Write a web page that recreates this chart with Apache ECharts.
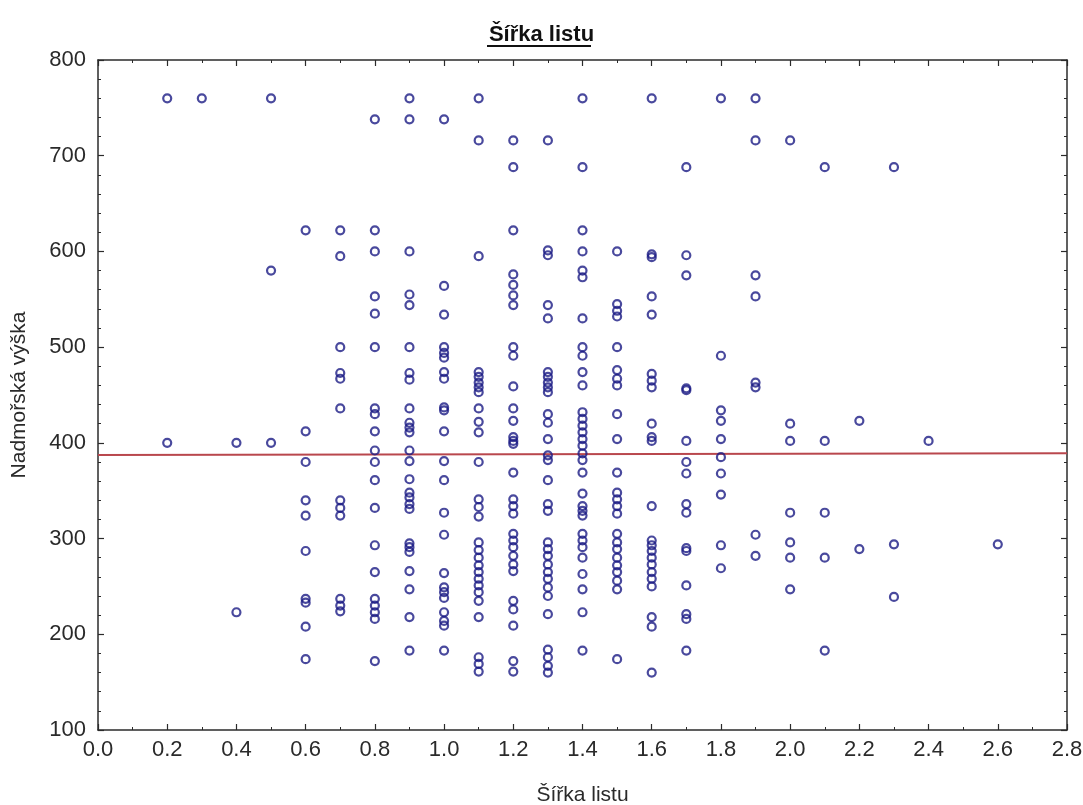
<!DOCTYPE html>
<html>
<head>
<meta charset="utf-8">
<script src="https://cdn.jsdelivr.net/npm/echarts@6/dist/echarts.min.js"></script>
<style>
  html, body { margin: 0; padding: 0; background: #fff; }
  #chart { width: 1083px; height: 805px; }
</style>
</head>
<body>
<div id="chart"></div>
<script>
// Leaf width (x) and altitude (y): one altitude list per measured width
const w02 = [760, 400];
const w03 = [760];
const w04 = [400, 223];
const w05 = [760, 580, 400];
const w06 = [622, 412, 380, 340, 324, 287, 237, 233, 208, 174];
const w07 = [622, 595, 500, 473, 467, 436, 340, 332, 324, 237, 230, 224];
const w08 = [738, 622, 600, 553, 535, 500, 436, 430, 412, 392, 380, 361, 332, 293, 265, 237, 230, 223, 216, 172];
const w09 = [760, 738, 600, 555, 544, 500, 473, 466, 436, 421, 416, 411, 392, 381, 362, 348, 343, 336, 331, 295, 291, 286, 266, 247, 218, 183];
const w10 = [738, 564, 534, 500, 494, 489, 474, 467, 437, 434, 412, 381, 361, 327, 304, 264, 249, 244, 238, 223, 214, 209, 183];
const w11 = [760, 716, 595, 474, 469, 463, 458, 453, 436, 422, 411, 380, 341, 333, 323, 296, 288, 280, 272, 265, 258, 251, 244, 235, 218, 176, 169, 161];
const w12 = [716, 688, 622, 576, 565, 554, 544, 500, 491, 459, 436, 423, 406, 402, 399, 369, 341, 334, 326, 305, 298, 291, 282, 273, 266, 235, 226, 209, 172, 161];
const w13 = [716, 601, 596, 544, 530, 474, 469, 463, 458, 453, 430, 421, 404, 387, 382, 361, 336, 329, 296, 289, 282, 273, 265, 258, 249, 240, 221, 184, 176, 167, 160];
const w14 = [760, 688, 622, 600, 580, 573, 530, 500, 491, 474, 460, 432, 425, 418, 411, 404, 397, 389, 382, 369, 347, 334, 329, 324, 305, 298, 291, 280, 263, 247, 223, 183];
const w15 = [600, 545, 538, 532, 500, 476, 467, 460, 430, 404, 369, 348, 341, 334, 326, 305, 296, 289, 280, 272, 265, 256, 247, 174];
const w16 = [760, 597, 594, 553, 534, 472, 465, 458, 420, 406, 402, 334, 298, 293, 287, 280, 273, 265, 258, 250, 218, 208, 160];
const w17 = [688, 596, 575, 457, 455, 402, 380, 368, 336, 327, 290, 287, 251, 221, 216, 183];
const w18 = [760, 491, 434, 423, 404, 385, 368, 346, 293, 269];
const w19 = [760, 716, 575, 553, 463, 458, 304, 282];
const w20 = [716, 420, 402, 327, 296, 280, 247];
const w21 = [688, 402, 327, 280, 183];
const w22 = [423, 289];
const w23 = [688, 294, 239];
const w24 = [402];
const w26 = [294];

const widths = [0.2, 0.3, 0.4, 0.5, 0.6, 0.7, 0.8, 0.9, 1.0, 1.1, 1.2, 1.3, 1.4, 1.5, 1.6, 1.7, 1.8, 1.9, 2.0, 2.1, 2.2, 2.3, 2.4, 2.6];
const altitudes = [w02, w03, w04, w05, w06, w07, w08, w09, w10, w11, w12, w13, w14, w15, w16, w17, w18, w19, w20, w21, w22, w23, w24, w26];

// Fitted linear trend (endpoints at x = 0 and x = 2.8)
const trendX = [0, 2.8];
const trendY = [387.4, 389.1];

const xTicks = { min: 0, max: 2.8, step: 0.2 };
const yTicks = { min: 100, max: 800, step: 100 };

const points = [];
widths.forEach((w, i) => altitudes[i].forEach(h => points.push([w, h])));

const frame = '#2b2b2b';
const labelFont = 'Liberation Sans, Arial, sans-serif';

function axisCommon(showLabels) {
  return {
    axisLine: { show: true, onZero: false, lineStyle: { color: frame, width: 1.5 } },
    axisTick: { show: true, inside: true, length: 6, lineStyle: { color: frame, width: 1.2 } },
    minorTick: { show: true, length: 3, lineStyle: { color: frame, width: 1 } },
    splitLine: { show: false },
    axisLabel: { show: showLabels, fontSize: 22, color: '#2a2a2a', fontFamily: labelFont }
  };
}

const chart = echarts.init(document.getElementById('chart'), null, { renderer: 'canvas' });

const xBase = axisCommon(true);
const yBase = axisCommon(true);

chart.setOption({
  animation: false,
  backgroundColor: '#ffffff',
  title: {
    text: 'Šířka listu',
    left: 'center',
    top: 19,
    textStyle: { fontSize: 22, fontWeight: 'bold', color: '#111', fontFamily: labelFont }
  },
  graphic: [{
    type: 'rect',
    shape: { x: 487, y: 45, width: 104, height: 2 },
    style: { fill: '#111' }
  }],
  grid: { left: 98, right: 16, top: 60, bottom: 75, containLabel: false, outerBoundsMode: 'none' },
  xAxis: [
    Object.assign({}, xBase, {
      type: 'value', position: 'bottom',
      min: xTicks.min, max: xTicks.max, interval: xTicks.step,
      minorTick: Object.assign({}, xBase.minorTick, { splitNumber: 2 }),
      axisLabel: Object.assign({}, xBase.axisLabel, { margin: 9, formatter: v => v.toFixed(1) }),
      name: 'Šířka listu', nameLocation: 'middle', nameGap: 55,
      nameTextStyle: { fontSize: 21, color: '#2a2a2a', fontFamily: labelFont }
    }),
    Object.assign({}, axisCommon(false), {
      type: 'value', position: 'top',
      min: xTicks.min, max: xTicks.max, interval: xTicks.step,
      minorTick: Object.assign({}, xBase.minorTick, { splitNumber: 2 })
    })
  ],
  yAxis: [
    Object.assign({}, yBase, {
      type: 'value', position: 'left',
      min: yTicks.min, max: yTicks.max, interval: yTicks.step,
      minorTick: Object.assign({}, yBase.minorTick, { splitNumber: 5 }),
      axisLabel: Object.assign({}, yBase.axisLabel, { margin: 12 }),
      name: 'Nadmořská výška', nameLocation: 'middle', nameGap: 68,
      nameTextStyle: { fontSize: 21, color: '#2a2a2a', fontFamily: labelFont }
    }),
    Object.assign({}, axisCommon(false), {
      type: 'value', position: 'right',
      min: yTicks.min, max: yTicks.max, interval: yTicks.step,
      minorTick: Object.assign({}, yBase.minorTick, { splitNumber: 5 })
    })
  ],
  series: [
    {
      type: 'scatter',
      xAxisIndex: 0, yAxisIndex: 0,
      data: points,
      symbol: 'circle',
      symbolSize: 8,
      itemStyle: { color: 'rgba(0,0,0,0)', borderColor: '#1c1c85', borderWidth: 2.2 }
    },
    {
      type: 'line',
      xAxisIndex: 0, yAxisIndex: 0,
      data: trendX.map((x, i) => [x, trendY[i]]),
      symbol: 'none',
      lineStyle: { color: '#b9474d', width: 2 },
      z: 1
    }
  ]
});
</script>
</body>
</html>
